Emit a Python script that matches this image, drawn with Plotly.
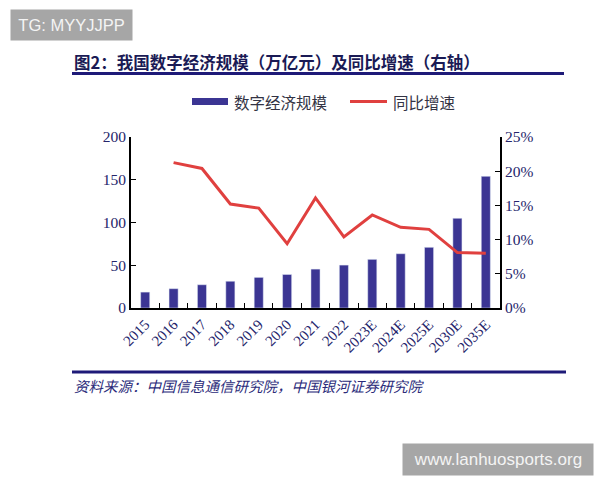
import plotly.graph_objects as go

years = ["2015", "2016", "2017", "2018", "2019", "2020", "2021", "2022",
         "2023E", "2024E", "2025E", "2030E", "2035E"]
scale = [18.6, 22.6, 27.2, 31.3, 35.8, 39.2, 45.5, 50.2, 56.9, 63.5, 71.0, 104.9, 154.0]
growth = [None, 0.2125, 0.204, 0.152, 0.146, 0.094, 0.161, 0.104, 0.136, 0.118, 0.115, 0.081, 0.080]

W, H = 600, 480
L, R, T, B = 131, 100, 137, 172
PW, PH = W - L - R, H - T - B

def px(x):
    return (x - L) / PW

def py(y):
    return (H - B - y) / PH

NAVY = "#3b3593"
RED = "#e0403f"
TXT = "#25256b"
SERIF = "Liberation Serif, Times New Roman, serif"
CJK = "Noto Sans CJK SC, sans-serif"

fig = go.Figure()
fig.add_trace(go.Bar(x=years, y=scale, marker_color=NAVY, width=0.32,
                     name="数字经济规模", yaxis="y"))
fig.add_trace(go.Scatter(x=years, y=growth, mode="lines", name="同比增速",
                         line=dict(color=RED, width=3), yaxis="y2"))

fig.update_layout(
    width=W, height=H,
    margin=dict(l=L, r=R, t=T, b=B),
    paper_bgcolor="white", plot_bgcolor="white",
    showlegend=False,
    xaxis=dict(type="category", showline=True, linecolor="black", linewidth=2,
               ticks="inside", tickson="boundaries", ticklen=5, tickcolor="black",
               tickangle=-45, tickfont=dict(family=SERIF, size=15, color=TXT),
               showgrid=False),
    yaxis=dict(range=[0, 200], dtick=50, showline=True, linecolor="black", linewidth=2,
               ticks="inside", ticklen=5, tickcolor="black", showgrid=False,
               zeroline=False, tickfont=dict(family=SERIF, size=15.5, color=TXT)),
    yaxis2=dict(range=[0, 0.25], dtick=0.05, tickformat=".0%", overlaying="y",
                side="right", showline=True, linecolor="black", linewidth=2,
                ticks="inside", ticklen=5, tickcolor="black", showgrid=False,
                zeroline=False, tickfont=dict(family=SERIF, size=15.5, color=TXT)),
)

shapes = [
    # title rule
    dict(type="line", xref="paper", yref="paper", x0=px(72), x1=px(564),
         y0=py(73.5), y1=py(73.5), line=dict(color="#1e1a78", width=3)),
    # source rule
    dict(type="line", xref="paper", yref="paper", x0=px(72), x1=px(566),
         y0=py(372), y1=py(372), line=dict(color="#1e1a78", width=3)),
    # legend swatches
    dict(type="rect", xref="paper", yref="paper", x0=px(192), x1=px(228),
         y0=py(105), y1=py(98), fillcolor=NAVY, line=dict(width=0)),
    dict(type="line", xref="paper", yref="paper", x0=px(350), x1=px(387),
         y0=py(101.5), y1=py(101.5), line=dict(color=RED, width=3)),
]

annotations = [
    dict(text="<b>图2：我国数字经济规模（万亿元）及同比增速（右轴）</b>",
         xref="paper", yref="paper", x=px(72), y=py(62), xanchor="left", yanchor="middle",
         showarrow=False, font=dict(family=CJK, size=16.5, color="#1a1a55")),
    dict(text="数字经济规模", xref="paper", yref="paper", x=px(232), y=py(101.5),
         xanchor="left", yanchor="middle", showarrow=False,
         font=dict(family=CJK, size=15.5, color="#333344")),
    dict(text="同比增速", xref="paper", yref="paper", x=px(391), y=py(101.5),
         xanchor="left", yanchor="middle", showarrow=False,
         font=dict(family=CJK, size=15.5, color="#333344")),
    dict(text="资料来源：中国信息通信研究院，中国银河证券研究院",
         xref="paper", yref="paper", x=px(72), y=py(385), xanchor="left", yanchor="middle",
         showarrow=False, font=dict(family=CJK, size=14.5, color="#2b2b7a", style="italic")),
    dict(text="TG: MYYJJPP", xref="paper", yref="paper", x=px(10), y=py(9),
         xanchor="left", yanchor="top", showarrow=False, width=121, height=30,
         bgcolor="#a6a6a6", borderpad=0,
         font=dict(family="Liberation Sans, Arial, sans-serif", size=16.5, color="#f4f4f4")),
    dict(text="www.lanhuosports.org", xref="paper", yref="paper", x=px(402), y=py(443),
         xanchor="left", yanchor="top", showarrow=False, width=190, height=31,
         bgcolor="#a6a6a6", borderpad=0,
         font=dict(family="Liberation Sans, Arial, sans-serif", size=17, color="#f4f4f4")),
]

fig.update_layout(shapes=shapes, annotations=annotations)
fig.write_html("out.html")
